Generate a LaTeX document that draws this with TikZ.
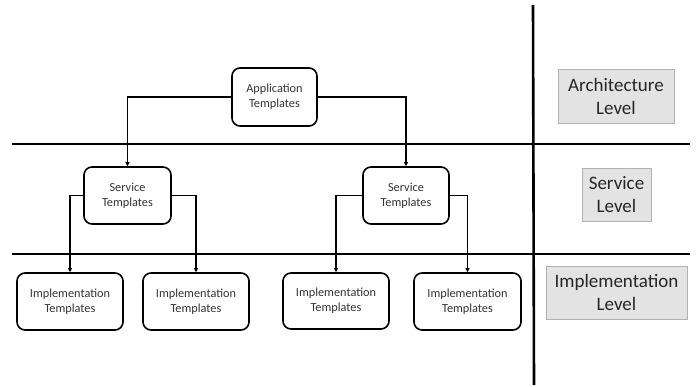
\documentclass[tikz,border=0pt]{standalone}
\usepackage{fontspec}
\setmainfont{Carlito}
\usetikzlibrary{arrows.meta}
\begin{document}
\begin{tikzpicture}[x=1pt,y=-1pt,
  tbox/.style={draw, line width=1.6pt, rounded corners=8pt, align=center,
    font=\fontsize{12.3}{15}\selectfont, inner sep=0pt, text=black!80},
  lvl/.style={draw=black!30, fill=black!11, line width=0.8pt, align=center,
    font=\fontsize{19}{23}\selectfont, inner sep=0pt, text=black!85},
  conn/.style={line width=1.1pt, -{Triangle[length=4pt,width=4pt]}},
  divider/.style={line width=2.6pt}]
\useasboundingbox (0,0) rectangle (696,387);
% dividers
\coordinate (vt) at (533,5);
\coordinate (vb) at (534,385);
\coordinate (h1l) at (12,144);
\coordinate (h1r) at (690,144);
\coordinate (h2l) at (12,254);
\coordinate (h2r) at (690,254);
\draw[divider] (vt) -- (vb);
\draw[divider] (h1l) -- (h1r);
\draw[divider] (h2l) -- (h2r);
% template boxes
\node[tbox, minimum width=85pt, minimum height=58pt] (app) at (274.5,97) {Application\\Templates};
\node[tbox, minimum width=87pt, minimum height=57pt] (svcL) at (127.5,195.5) {Service\\Templates};
\node[tbox, minimum width=86pt, minimum height=57pt] (svcR) at (406,195.5) {Service\\Templates};
\node[tbox, minimum width=106pt, minimum height=57pt] (imp1) at (70,301.5) {Implementation\\Templates};
\node[tbox, minimum width=106pt, minimum height=57pt] (imp2) at (196,301.5) {Implementation\\Templates};
\node[tbox, minimum width=106pt, minimum height=56pt] (imp3) at (336,301) {Implementation\\Templates};
\node[tbox, minimum width=107pt, minimum height=57pt] (imp4) at (467.5,301.5) {Implementation\\Templates};
% connectors
\draw[conn] (app.west) -| (svcL.north);
\draw[conn] (app.east) -| (svcR.north);
\draw[conn] (svcL.west) -| (imp1.north);
\draw[conn] (svcL.east) -| (imp2.north);
\draw[conn] (svcR.west) -| (imp3.north);
\draw[conn] (svcR.east) -| (imp4.north);
% level labels
\node[lvl, minimum width=116pt, minimum height=54pt] (archL) at (616,96) {Architecture\\Level};
\node[lvl, minimum width=69pt, minimum height=53pt] (servL) at (616.5,194.5) {Service\\Level};
\node[lvl, minimum width=141pt, minimum height=53pt] (implL) at (616.5,292.5) {Implementation\\Level};
\end{tikzpicture}
\end{document}
